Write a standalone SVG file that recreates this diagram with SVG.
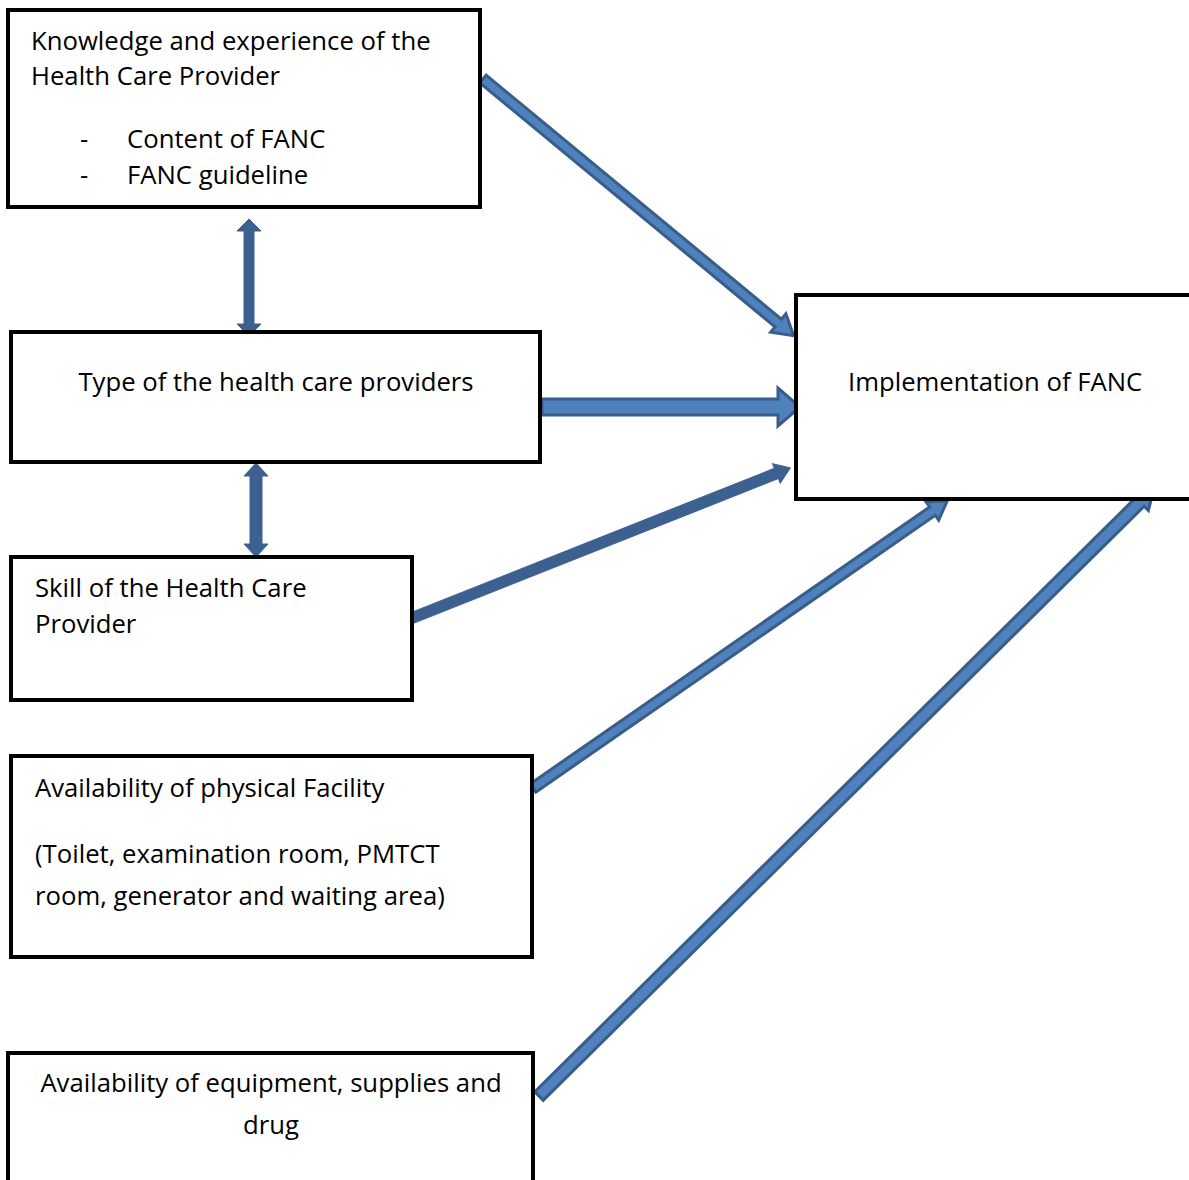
<svg xmlns="http://www.w3.org/2000/svg" width="1189" height="1180" viewBox="0 0 1189 1180">
<style>
.box{fill:#fff;stroke:#000;stroke-width:4}
.t{font-family:"Open Sans","Liberation Sans",sans-serif;font-size:25.7px;fill:#000}
.c{text-anchor:middle}
.ao{fill:#4f81bd;stroke:#385d8a;stroke-width:3;stroke-linejoin:miter}
.as{fill:#3c6090;stroke:#3c6090;stroke-width:1}
</style>
<rect width="1189" height="1180" fill="#fff"/>
<g id="connectors">
<polygon class="ao" transform="translate(483,79) rotate(39.57)" points="0,-5 383,-5 383,-12 403,0 383,12 383,5 0,5"/>
<polygon class="ao" transform="translate(542,407)" points="0,-8 236,-8 236,-19 258,0 236,19 236,8 0,8"/>
<polygon class="as" points="244,231 237,231 249,219 261,231 254,231 254,324 261,324 249,336 237,324 244,324"/>
<polygon class="as" points="250,476 244,476 256,463 268,476 262,476 262,544 268,544 256,557 244,544 250,544"/>
<polygon class="as" transform="translate(412,618) rotate(-21.64)" points="0,-5.5 392,-5.5 392,-10.5 407,0 392,10.5 392,5.5 0,5.5"/>
<polygon class="ao" transform="translate(533,788) rotate(-34.73)" points="0,-5 486,-5 486,-11 504,0 486,11 486,5 0,5"/>
<polygon class="ao" transform="translate(539,1096) rotate(-44.67)" points="0,-6 845,-6 845,-12 865,0 845,12 845,6 0,6"/>
</g>
<g id="node-knowledge">
<rect class="box" x="8" y="10" width="472" height="197"/>
<text class="t" x="31" y="50">Knowledge and experience of the</text>
<text class="t" x="31" y="85">Health Care Provider</text>
<text class="t" x="80" y="148">-</text>
<text class="t" x="127" y="148">Content of FANC</text>
<text class="t" x="80" y="184">-</text>
<text class="t" x="127" y="184">FANC guideline</text>
</g>
<g id="node-type">
<rect class="box" x="11" y="332" width="529" height="130"/>
<text class="t c" x="276" y="391">Type of the health care providers</text>
</g>
<g id="node-skill">
<rect class="box" x="11" y="557" width="401" height="143"/>
<text class="t" x="35" y="597">Skill of the Health Care</text>
<text class="t" x="35" y="633">Provider</text>
</g>
<g id="node-physical">
<rect class="box" x="11" y="756" width="521" height="201"/>
<text class="t" x="35" y="797">Availability of physical Facility</text>
<text class="t" x="35" y="863">(Toilet, examination room, PMTCT</text>
<text class="t" x="35" y="905">room, generator and waiting area)</text>
</g>
<g id="node-equipment">
<rect class="box" x="8" y="1053" width="525" height="160"/>
<text class="t c" x="271" y="1092">Availability of equipment, supplies and</text>
<text class="t c" x="271" y="1134">drug</text>
</g>
<g id="node-implementation">
<rect class="box" x="796" y="295" width="420" height="204"/>
<text class="t" x="848" y="391">Implementation of FANC</text>
</g>
</svg>
